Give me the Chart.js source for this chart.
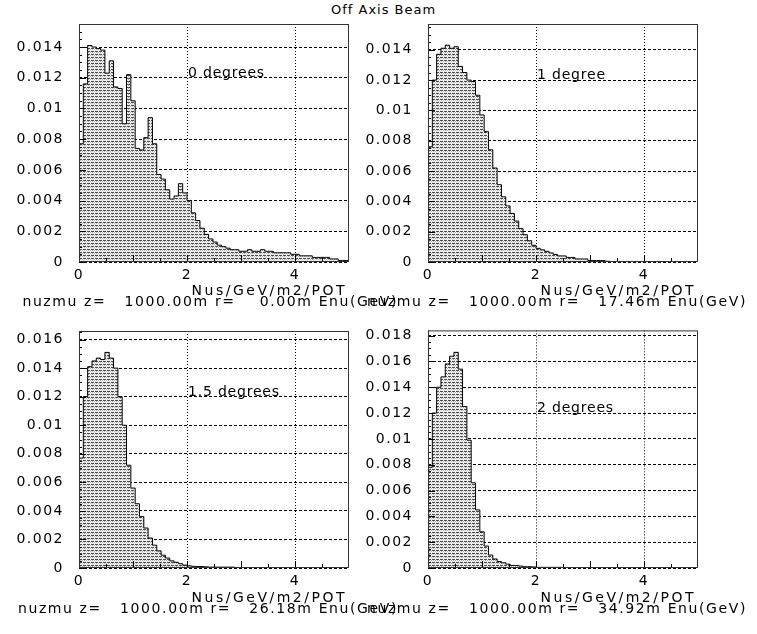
<!DOCTYPE html>
<html>
<head>
<meta charset="utf-8">
<script src="https://cdn.jsdelivr.net/npm/chart.js@4.4.1/dist/chart.umd.min.js"></script>
<style>
  body { margin: 0; background: #fff; width: 757px; height: 634px; position: relative; overflow: hidden; font-family: "DejaVu Sans", sans-serif; }
  canvas { position: absolute; }
  .t { position: absolute; white-space: pre; font-size: 14px; line-height: 15px; letter-spacing: 1.6px; color: #000; }
  .u { letter-spacing: 2.5px; }
</style>
</head>
<body>
<div class="t" style="left:331px;top:2px;font-size:13px;letter-spacing:1px">Off Axis Beam</div>

<canvas id="p1" width="378" height="300" style="left:0;top:0"></canvas>
<canvas id="p2" width="378" height="300" style="left:349px;top:0"></canvas>
<canvas id="p3" width="378" height="300" style="left:0;top:307px"></canvas>
<canvas id="p4" width="378" height="300" style="left:349px;top:307px"></canvas>

<div class="t u" style="right:410px;top:283px">Nus/GeV/m2/POT</div>
<div class="t" style="right:359px;top:294px">nuzmu z=   1000.00m r=    0.00m Enu(GeV)</div>
<div class="t u" style="right:61px;top:283px">Nus/GeV/m2/POT</div>
<div class="t" style="right:10px;top:294px">nuzmu z=   1000.00m r=   17.46m Enu(GeV)</div>
<div class="t u" style="right:410px;top:590px">Nus/GeV/m2/POT</div>
<div class="t" style="right:359px;top:601px">nuzmu z=   1000.00m r=   26.18m Enu(GeV)</div>
<div class="t u" style="right:61px;top:590px">Nus/GeV/m2/POT</div>
<div class="t" style="right:10px;top:601px">nuzmu z=   1000.00m r=   34.92m Enu(GeV)</div>

<script>
// histogram bins are 0.08 GeV wide, starting at 0
const binWidth = 0.08;
const xTicks = [0, 2, 4];

// Nus/GeV/m2/POT per bin
const deg0 = [0.0003, 0.0077, 0.0116, 0.0141, 0.0140, 0.0139, 0.0138, 0.0123, 0.0131, 0.0114,
  0.0113, 0.0090, 0.0122, 0.0105, 0.0074, 0.0073, 0.0081, 0.0094, 0.0077, 0.0057,
  0.0054, 0.0047, 0.0041, 0.0043, 0.0051, 0.0045, 0.0040, 0.0032, 0.0027, 0.0022,
  0.0018, 0.0015, 0.0013, 0.0011, 0.0010, 0.0009, 0.0008, 0.0008, 0.0007, 0.0007,
  0.0008, 0.0007, 0.0007, 0.0008, 0.0007, 0.0007, 0.0006, 0.0006, 0.0006, 0.0006,
  0.0005, 0.0005, 0.0004, 0.0004, 0.0004, 0.0003, 0.0003, 0.0003, 0.0003, 0.0002,
  0.0002, 0.0001, 0.0001];
const deg1 = [0.0005, 0.0076, 0.0120, 0.0137, 0.0141, 0.0143, 0.0141, 0.0142, 0.0129, 0.0125,
  0.0120, 0.0119, 0.0110, 0.0097, 0.0086, 0.0074, 0.0062, 0.0051, 0.0043, 0.0037,
  0.0032, 0.0027, 0.0022, 0.0018, 0.0014, 0.0011, 0.0009, 0.0008, 0.0007, 0.0006,
  0.0005, 0.0004, 0.0004, 0.0003, 0.0003, 0.0002, 0.0002, 0.0002, 0.0001, 0.0001,
  0.0001, 0.0001, 0.00005, 0.00003, 0.00003, 0.00003, 0.00003, 0, 0, 0,
  0, 0, 0, 0, 0, 0, 0, 0, 0, 0,
  0, 0, 0];
const deg15 = [0.0006, 0.0077, 0.0120, 0.0141, 0.0145, 0.0147, 0.0146, 0.0151, 0.0147, 0.0140,
  0.0120, 0.0100, 0.0072, 0.0056, 0.0045, 0.0036, 0.0028, 0.0021, 0.0016, 0.0012,
  0.0009, 0.0007, 0.0005, 0.0004, 0.0003, 0.0002, 0.00015, 0.00012, 0.0001, 0.0001,
  0.00008, 0.00006, 0.00006, 0.00006, 0.00006, 0.00006, 0.00006, 0.00004, 0, 0,
  0, 0, 0, 0, 0, 0, 0, 0, 0, 0,
  0, 0, 0, 0, 0, 0, 0, 0, 0, 0,
  0, 0, 0];
const deg2 = [0.0005, 0.0078, 0.0120, 0.0140, 0.0148, 0.0158, 0.0164, 0.0167, 0.0154, 0.0125,
  0.0099, 0.0066, 0.0045, 0.0028, 0.0017, 0.0010, 0.0007, 0.0005, 0.0004, 0.0003,
  0.0002, 0.0002, 0.00015, 0.0001, 0.0001, 0.00008, 0.00005, 0.00005, 0.00005, 0.00005,
  0.00005, 0.00005, 0, 0, 0, 0, 0, 0, 0, 0,
  0, 0, 0, 0, 0, 0, 0, 0, 0, 0,
  0, 0, 0, 0, 0, 0, 0, 0, 0, 0,
  0, 0, 0];

const tickFont = { family: 'DejaVu Sans', size: 14 };

// grey dotted fill like the PAW hatch style
function hatch() {
  const c = document.createElement('canvas');
  c.width = 4; c.height = 3;
  const g = c.getContext('2d');
  g.fillStyle = '#fff'; g.fillRect(0, 0, 4, 3);
  g.fillStyle = '#4a4a4a'; g.fillRect(0, 0, 2, 1); g.fillRect(3, 0, 1, 1);
  g.fillStyle = '#b0b0b0'; g.fillRect(0, 1, 1, 1); g.fillRect(2, 1, 1, 1);
  g.fillStyle = '#dcdcdc'; g.fillRect(1, 2, 1, 1); g.fillRect(3, 2, 1, 1);
  return g.createPattern(c, 'repeat');
}

// frame, inside tick marks and the angle label
const decor = {
  id: 'decor',
  beforeDraw(chart) { chart.ctx.letterSpacing = '1.5px'; },
  afterDraw(chart, args, opts) {
    const { ctx, chartArea: a, scales: { x, y } } = chart;
    ctx.save();
    ctx.strokeStyle = '#000';
    ctx.lineWidth = 1;
    ctx.beginPath();
    for (let i = 0; i * 0.0005 <= y.max; i++) {
      const py = Math.round(y.getPixelForValue(i * 0.0005)) + 0.5;
      const len = i % 4 === 0 ? 7 : 3;
      ctx.moveTo(a.left, py); ctx.lineTo(a.left + len, py);
    }
    for (let i = 1; i * 0.5 < x.max; i++) {
      const px = Math.round(x.getPixelForValue(i * 0.5)) + 0.5;
      const len = i % 2 === 0 ? 7 : 4;
      ctx.moveTo(px, a.bottom); ctx.lineTo(px, a.bottom - len);
    }
    ctx.stroke();
    ctx.strokeStyle = '#333';
    ctx.strokeRect(a.left + 0.5, a.top + 0.5, a.right - a.left - 1, a.bottom - a.top - 1);
    ctx.fillStyle = '#000';
    ctx.font = '14px "DejaVu Sans"';
    ctx.letterSpacing = '0.8px';
    ctx.textBaseline = 'alphabetic';
    ctx.fillText(opts.label, x.getPixelForValue(2) + 1, y.getPixelForValue(0.012) - 1);
    ctx.restore();
  }
};

function panel(id, values, ymax, label, padTop, axisH) {
  const pts = values.map((v, i) => ({ x: i * binWidth, y: v }));
  pts.push({ x: 5, y: values[values.length - 1] });
  const yTicks = [];
  for (let i = 0; i * 0.002 <= ymax; i++) yTicks.push(+(i * 0.002).toFixed(3));
  new Chart(document.getElementById(id), {
    type: 'line',
    data: {
      datasets: [{
        data: pts,
        stepped: 'after',
        fill: 'origin',
        backgroundColor: hatch(),
        borderColor: '#000',
        borderWidth: 1,
        pointRadius: 0
      }]
    },
    options: {
      responsive: false,
      animation: false,
      devicePixelRatio: 1,
      layout: { padding: { top: padTop, right: 29, left: 0, bottom: 0 } },
      plugins: { legend: { display: false }, tooltip: { enabled: false }, decor: { label: label } },
      scales: {
        x: {
          type: 'linear', min: 0, max: 5,
          afterBuildTicks: s => { s.ticks = xTicks.map(v => ({ value: v })); },
          afterFit: s => { s.height = axisH; },
          grid: { color: '#000', lineWidth: 1, drawTicks: false },
          border: { display: false, dash: [1, 2] },
          ticks: { color: '#000', font: tickFont, padding: 5, maxRotation: 0 }
        },
        y: {
          min: 0, max: ymax,
          afterBuildTicks: s => { s.ticks = yTicks.map(v => ({ value: v })); },
          afterFit: s => { s.width = 79; },
          grid: { color: '#000', lineWidth: 1, drawTicks: false },
          border: { display: false, dash: [3, 2] },
          ticks: { color: '#000', font: tickFont, padding: 15, callback: v => String(+v.toFixed(3)) }
        }
      }
    },
    plugins: [decor]
  });
}

panel('p1', deg0, 0.0155, '0 degrees', 24, 38);
panel('p2', deg1, 0.0157, '1 degree', 24, 38);
panel('p3', deg15, 0.0166, '1.5 degrees', 24, 39);
panel('p4', deg2, 0.0184, '2 degrees', 22, 39);
</script>
</body>
</html>
